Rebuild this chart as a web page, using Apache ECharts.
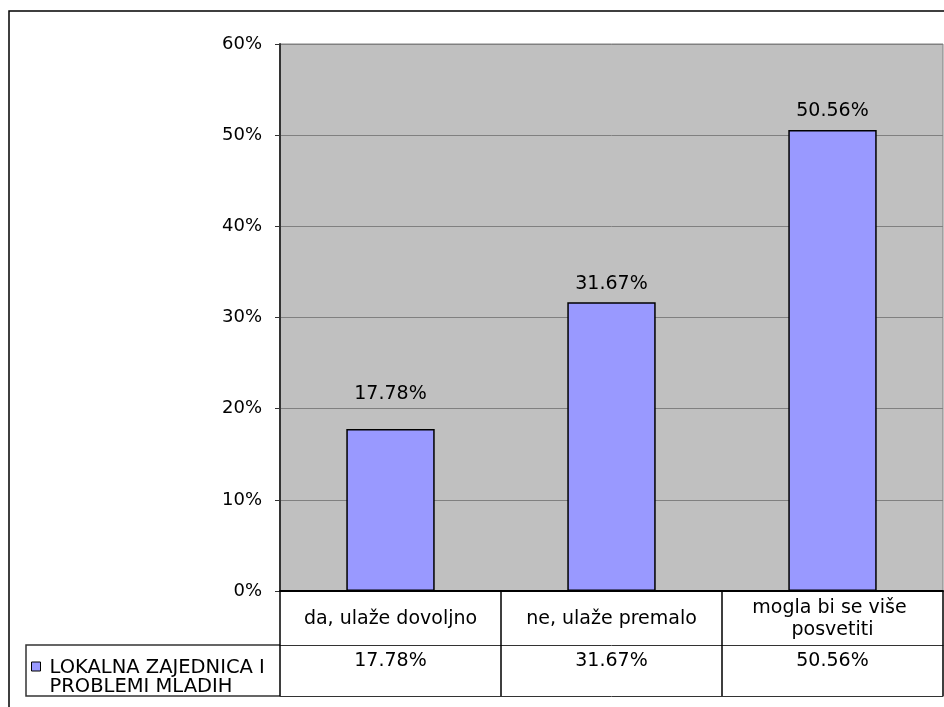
<!DOCTYPE html>
<html>
<head>
<meta charset="utf-8">
<script src="https://cdn.jsdelivr.net/npm/echarts@6/dist/echarts.min.js"></script>
<style>
  html, body { margin: 0; padding: 0; background: #fff; }
  #chart { width: 944px; height: 707px; }
</style>
</head>
<body>
<div id="chart"></div>
<script>
const categories = ['da, ulaže dovoljno', 'ne, ulaže premalo', 'mogla bi se više posvetiti']
const values = [17.78, 31.67, 50.56]
const seriesName = 'LOKALNA ZAJEDNICA I\nPROBLEMI MLADIH'
const yTicks = { min: 0, max: 60, interval: 10 }

const font = 'DejaVu Sans, Verdana, sans-serif'
const chart = echarts.init(document.getElementById('chart'))

// first label sits a bit higher in the original
const labelDistance = [25, 9, 9]

chart.setOption({
  animation: false,
  backgroundColor: '#fff',
  textStyle: { fontFamily: font },
  grid: {
    left: 280,
    right: 1,
    top: 44,
    bottom: 116,
    show: true,
    backgroundColor: '#c0c0c0',
    borderColor: '#808080',
    borderWidth: 1
  },
  legend: {
    left: 31,
    top: 658,
    padding: 0,
    itemWidth: 13,
    itemHeight: 31,
    // square at the top-left so it lines up with the first text line
    icon: 'path://M0,0L9,0L9,9L0,9Z M13,31',
    textStyle: {
      color: '#000',
      fontSize: 19.5,
      fontFamily: font,
      lineHeight: 19
    },
    data: [{ name: seriesName, itemStyle: { color: '#9999ff', borderColor: '#000', borderWidth: 1 } }]
  },
  xAxis: [{
    type: 'category',
    data: categories,
    position: 'bottom',
    axisLine: { lineStyle: { color: '#000', width: 2 } },
    axisTick: { show: true, length: 54, lineStyle: { color: '#000', width: 1.5 } },
    axisLabel: {
      color: '#000',
      fontSize: 19,
      fontFamily: font,
      margin: 28,
      verticalAlign: 'middle',
      lineHeight: 22,
      width: 200,
      overflow: 'break',
      interval: 0
    }
  }, {
    type: 'category',
    data: categories,
    position: 'bottom',
    offset: 54,
    axisLine: { lineStyle: { color: '#333', width: 1 } },
    axisTick: { show: true, length: 51, lineStyle: { color: '#000', width: 1.5 } },
    axisLabel: {
      color: '#000',
      fontSize: 19,
      fontFamily: font,
      margin: 16,
      verticalAlign: 'middle',
      interval: 0,
      formatter: (v, i) => values[i].toFixed(2) + '%'
    }
  }, {
    type: 'category',
    data: categories,
    position: 'bottom',
    offset: 105,
    axisLine: { lineStyle: { color: '#333', width: 1 } },
    axisTick: { show: false },
    axisLabel: { show: false }
  }],
  yAxis: {
    type: 'value',
    min: yTicks.min,
    max: yTicks.max,
    interval: yTicks.interval,
    axisLine: { show: true, lineStyle: { color: '#333', width: 2 } },
    axisTick: { show: true, length: 5, lineStyle: { color: '#333' } },
    axisLabel: {
      color: '#000',
      fontSize: 18,
      fontFamily: font,
      margin: 18,
      formatter: '{value}%'
    },
    splitLine: { show: true, lineStyle: { color: '#808080', width: 1 } }
  },
  series: [{
    name: seriesName,
    type: 'bar',
    data: values.map((v, i) => ({ value: v, label: { distance: labelDistance[i] } })),
    barWidth: '40%',
    itemStyle: { color: '#9999ff', borderColor: '#000', borderWidth: 1.5 },
    label: {
      show: true,
      position: 'top',
      color: '#000',
      fontSize: 19,
      fontFamily: font,
      formatter: p => p.value.toFixed(2) + '%'
    }
  }],
  graphic: [{
    type: 'rect',
    z: -1,
    shape: { x: 9, y: 11, width: 960, height: 720 },
    style: { fill: 'none', stroke: '#000', lineWidth: 1.5 }
  }, {
    type: 'polyline',
    shape: { points: [[280, 645], [26, 645], [26, 696], [280, 696]] },
    style: { fill: 'none', stroke: '#333', lineWidth: 1.5 }
  }]
})
</script>
</body>
</html>
